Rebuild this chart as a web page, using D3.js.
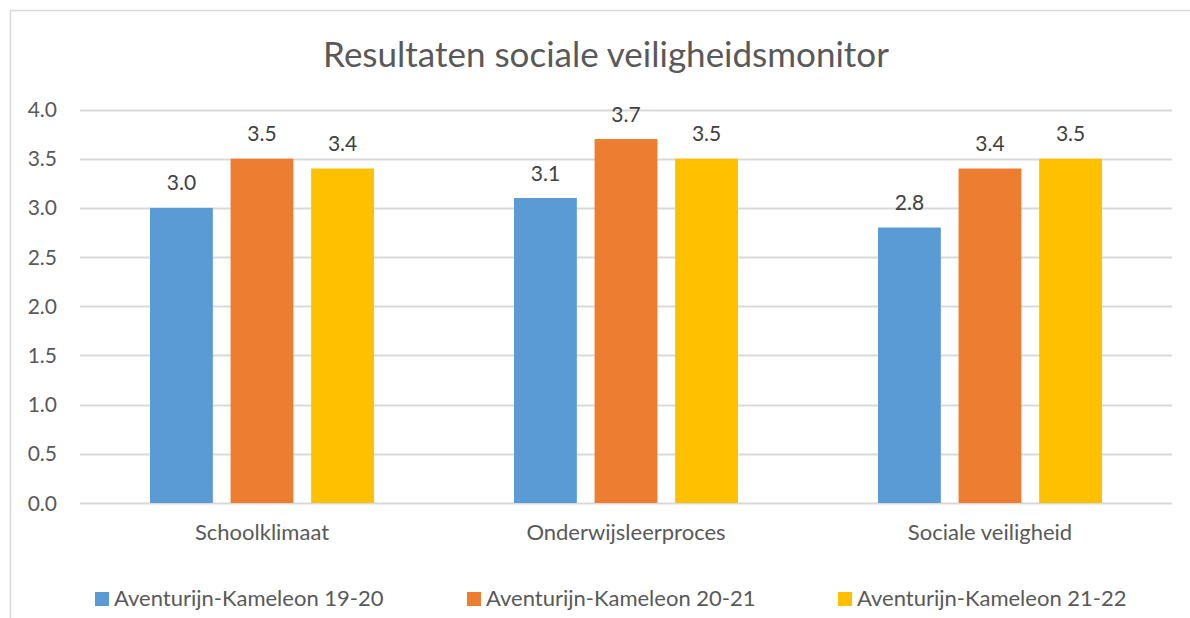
<!DOCTYPE html>
<html>
<head>
<meta charset="utf-8">
<script src="https://cdn.jsdelivr.net/npm/d3@7"></script>
<style>
  body { margin: 0; background: #fff; }
  svg { display: block; font-family: Lato, "Noto Sans", sans-serif; }
</style>
</head>
<body>
<svg></svg>
<script>
// data
var categories = ["Schoolklimaat", "Onderwijsleerproces", "Sociale veiligheid"];
var seriesNames = ["Aventurijn-Kameleon 19-20", "Aventurijn-Kameleon 20-21", "Aventurijn-Kameleon 21-22"];
var values19_20 = [3.0, 3.1, 2.8];
var values20_21 = [3.5, 3.7, 3.4];
var values21_22 = [3.4, 3.5, 3.5];
var yTicks = [0, 0.5, 1.0, 1.5, 2.0, 2.5, 3.0, 3.5, 4.0];
var colors = ["#5b9bd5", "#ed7d31", "#ffc000"];

var seriesValues = [values19_20, values20_21, values21_22];

var pic = d3.select("svg").attr("width", 1190).attr("height", 618);

// chart frame
pic.append("rect")
  .attr("x", 10.5).attr("y", 10.5).attr("width", 1200).attr("height", 640)
  .attr("fill", "#fff").attr("stroke", "#d9d9d9").attr("stroke-width", 1.5);

// title
pic.append("text")
  .attr("x", 606).attr("y", 67)
  .attr("text-anchor", "middle")
  .attr("font-size", 35).attr("fill", "#595959")
  .text("Resultaten sociale veiligheidsmonitor");

// scales
var y = d3.scaleLinear().domain([0, 4]).range([503, 109.5]);
var x0 = d3.scaleBand().domain(categories).range([80, 1172]);
var x1 = d3.scaleBand().domain(d3.range(seriesNames.length)).range([70, 294]).paddingInner(0.22);

// gridlines
pic.append("g").selectAll("line").data(yTicks).enter()
  .append("line")
  .attr("x1", 80).attr("x2", 1172)
  .attr("y1", function(d){ return Math.round(y(d)) + 0.5; })
  .attr("y2", function(d){ return Math.round(y(d)) + 0.5; })
  .attr("stroke", "#d9d9d9").attr("stroke-width", 2);

// y tick labels
pic.append("g").selectAll("text").data(yTicks).enter()
  .append("text")
  .attr("x", 57).attr("y", function(d){ return y(d); })
  .attr("dy", "0.36em")
  .attr("text-anchor", "end")
  .attr("font-size", 21).attr("fill", "#595959")
  .text(d3.format(".1f"));

// bars
var groups = pic.append("g").selectAll("g").data(categories).enter()
  .append("g")
  .attr("transform", function(d){ return "translate(" + x0(d) + ",0)"; });

var cells = groups.selectAll("g").data(function(d, i){
    return seriesValues.map(function(vals, s){ return {s: s, v: vals[i]}; });
  }).enter();

cells.append("rect")
  .attr("x", function(d){ return x1(d.s); })
  .attr("width", x1.bandwidth())
  .attr("y", function(d){ return y(d.v); })
  .attr("height", function(d){ return y(0) - y(d.v); })
  .attr("fill", function(d){ return colors[d.s]; });

// data labels
cells.append("text")
  .attr("x", function(d){ return x1(d.s) + x1.bandwidth() / 2; })
  .attr("y", function(d){ return y(d.v) - 17.5; })
  .attr("text-anchor", "middle")
  .attr("font-size", 21).attr("fill", "#404040")
  .text(function(d){ return d3.format(".1f")(d.v); });

// category labels
pic.append("g").selectAll("text").data(categories).enter()
  .append("text")
  .attr("x", function(d){ return x0(d) + x0.bandwidth() / 2; })
  .attr("y", 540)
  .attr("text-anchor", "middle")
  .attr("font-size", 22).attr("fill", "#595959")
  .text(function(d){ return d; });

// legend
var legendX = [95, 467, 838];
var legend = pic.append("g").selectAll("g").data(seriesNames).enter()
  .append("g")
  .attr("transform", function(d, i){ return "translate(" + legendX[i] + ",592)"; });
legend.append("rect")
  .attr("width", 14).attr("height", 14)
  .attr("fill", function(d, i){ return colors[i]; });
legend.append("text")
  .attr("x", 19).attr("y", 14)
  .attr("font-size", 22).attr("fill", "#595959")
  .text(function(d){ return d; });
</script>
</body>
</html>
